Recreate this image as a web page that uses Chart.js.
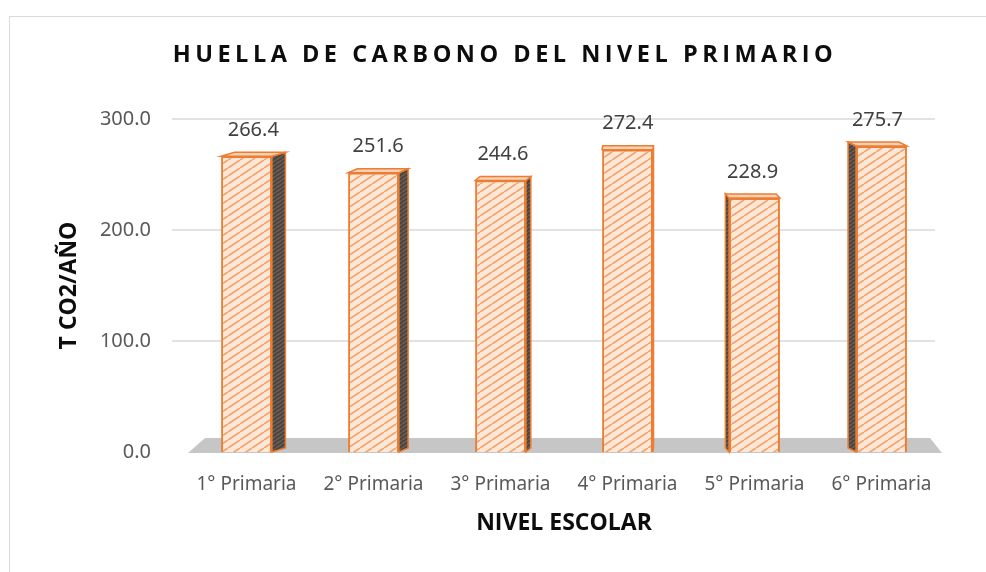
<!DOCTYPE html>
<html>
<head>
<meta charset="utf-8">
<script src="https://cdn.jsdelivr.net/npm/chart.js@4.4.0/dist/chart.umd.min.js"></script>
<style>
  html, body { margin: 0; padding: 0; background: #fff; }
  #frame { position: absolute; left: 9px; top: 16px; width: 990px; height: 570px; border: 1px solid #d9d9d9; }
  #wrap { position: absolute; left: 0; top: 0; width: 986px; height: 572px; }
</style>
</head>
<body>
<div id="frame"></div>
<div id="wrap"><canvas id="huellaChart" width="986" height="572"></canvas></div>
<script>
// data
const niveles = ['1° Primaria', '2° Primaria', '3° Primaria', '4° Primaria', '5° Primaria', '6° Primaria'];
const toneladas = [266.4, 251.6, 244.6, 272.4, 228.9, 275.7];
const yTicks = [0, 100, 200, 300];

const chartTitle = 'HUELLA DE CARBONO DEL NIVEL PRIMARIO';
const yTitle = 'T CO2/AÑO';
const xTitle = 'NIVEL ESCOLAR';

// hatch pattern for the bars
function makeHatch(bg, fg, w, h) {
  const c = document.createElement('canvas');
  c.width = w; c.height = h;
  const g = c.getContext('2d');
  g.fillStyle = bg;
  g.fillRect(0, 0, w, h);
  g.strokeStyle = fg;
  g.lineWidth = 1.7;
  g.beginPath();
  for (let k = -1; k <= 1; k++) {
    g.moveTo(k * w, h);
    g.lineTo(k * w + w, 0);
  }
  g.stroke();
  return g.createPattern(c, 'repeat');
}

const ctx = document.getElementById('huellaChart').getContext('2d');
const hatch = makeHatch('#fde8d8', '#f2a26c', 12, 8);
const darkHatch = makeHatch('#4a4440', '#6a5d54', 6, 4);

// title with letter spacing
const titlePlugin = {
  id: 'spacedTitle',
  afterDraw(chart) {
    const c = chart.ctx;
    c.save();
    c.font = 'bold 23.5px "Open Sans"';
    c.fillStyle = '#0d0d0d';
    c.textAlign = 'center';
    c.textBaseline = 'alphabetic';
    c.letterSpacing = '4.5px';
    c.fillText(chartTitle, 505, 62);
    c.restore();
  }
};

// gridlines + grey floor, drawn behind the bars
const floorPlugin = {
  id: 'floor',
  beforeDatasetsDraw(chart) {
    const c = chart.ctx;
    const a = chart.chartArea;
    const y = chart.scales.y;
    c.save();
    c.strokeStyle = '#d9d9d9';
    c.lineWidth = 1.5;
    yTicks.slice(1).forEach(v => {
      const py = y.getPixelForValue(v);
      c.beginPath();
      c.moveTo(a.left - 11, py);
      c.lineTo(a.right - 10, py);
      c.stroke();
    });
    const y0 = y.getPixelForValue(0);
    c.fillStyle = '#c6c6c6';
    c.beginPath();
    c.moveTo(a.left + 5, y0 + 1);
    c.lineTo(a.left + 22, y0 - 14);
    c.lineTo(a.right - 15, y0 - 14);
    c.lineTo(a.right - 3, y0 + 1);
    c.closePath();
    c.fill();
    c.restore();
  }
};

// fake 3d side/top faces + value labels
const boxPlugin = {
  id: 'box3d',
  afterDatasetsDraw(chart) {
    const c = chart.ctx;
    const meta = chart.getDatasetMeta(0);
    const vx = 645;
    c.save();
    meta.data.forEach((bar, i) => {
      const half = bar.width / 2;
      const L = bar.x - half, R = bar.x + half;
      const top = bar.y, base = bar.base;
      const d = (vx - bar.x) * 0.034;
      const up = 4;
      c.lineWidth = 1.5;
      c.strokeStyle = '#ed7d31';
      // side face
      c.fillStyle = darkHatch;
      c.beginPath();
      if (d >= 0) {
        c.moveTo(R, top); c.lineTo(R + d, top - up); c.lineTo(R + d, base - up); c.lineTo(R, base);
      } else {
        c.moveTo(L, top); c.lineTo(L + d, top - up); c.lineTo(L + d, base - up); c.lineTo(L, base);
      }
      c.closePath();
      c.fill();
      c.stroke();
      // top face
      c.fillStyle = '#f6d2b6';
      c.beginPath();
      c.moveTo(L, top); c.lineTo(L + d, top - up); c.lineTo(R + d, top - up); c.lineTo(R, top);
      c.closePath();
      c.fill();
      c.stroke();
      // value
      c.font = '20px "Noto Sans"';
      c.fillStyle = '#404040';
      c.textAlign = 'center';
      c.textBaseline = 'middle';
      c.fillText(toneladas[i].toFixed(1), bar.x + d / 2, top - 26);
    });
    c.restore();
  }
};

new Chart(ctx, {
  type: 'bar',
  data: {
    labels: niveles,
    datasets: [{
      label: yTitle,
      data: toneladas,
      backgroundColor: hatch,
      borderColor: '#ed7d31',
      borderWidth: 2,
      categoryPercentage: 1,
      barPercentage: 0.4
    }]
  },
  options: {
    responsive: false,
    animation: false,
    layout: { padding: { left: 50, right: 41, top: 119, bottom: 30 } },
    plugins: {
      legend: { display: false },
      tooltip: { enabled: false }
    },
    scales: {
      x: {
        grid: { display: false, drawTicks: false },
        border: { display: false },
        ticks: { color: '#595959', font: { family: 'Noto Sans', size: 19 }, padding: 21, maxRotation: 0, autoSkip: false },
        title: { display: true, text: xTitle, color: '#0d0d0d', font: { family: 'Open Sans', size: 23, weight: 'bold' }, padding: { top: 4, bottom: 5 } },
        afterFit(scale) { scale.height = 90; }
      },
      y: {
        min: 0,
        max: 300,
        afterBuildTicks(scale) { scale.ticks = yTicks.map(v => ({ value: v })); },
        grid: { display: false, drawTicks: false },
        border: { display: false },
        ticks: { color: '#595959', font: { family: 'Noto Sans', size: 20 }, padding: 32, callback: v => v.toFixed(1) },
        title: { display: true, text: yTitle, color: '#0d0d0d', font: { family: 'Open Sans', size: 23, weight: 'bold' }, padding: { top: 6, bottom: 4 } },
        afterFit(scale) { scale.width = 133; }
      }
    }
  },
  plugins: [floorPlugin, boxPlugin, titlePlugin]
});
</script>
</body>
</html>
